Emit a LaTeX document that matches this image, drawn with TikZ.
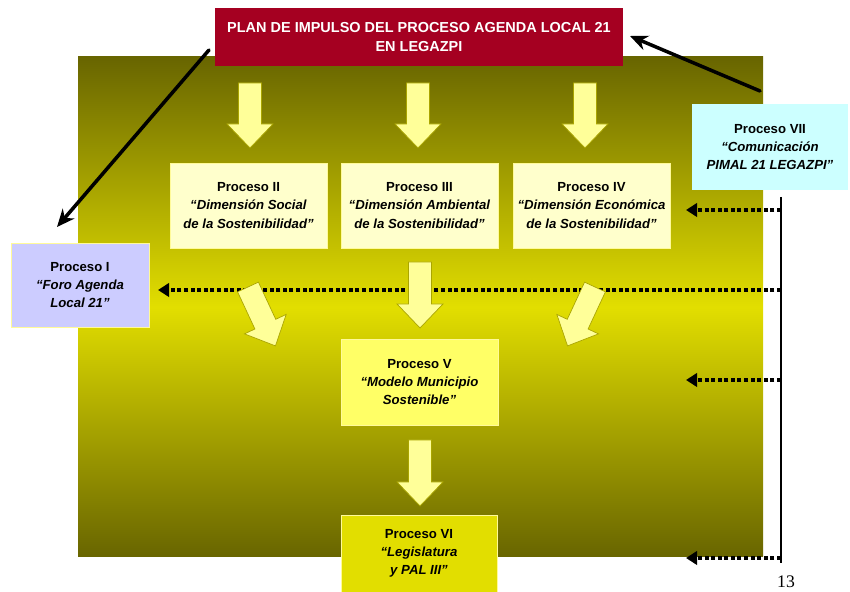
\documentclass[tikz,border=0pt]{standalone}
\usepackage{fontspec}
\setmainfont{Liberation Sans}
\newfontfamily\pagefont{Liberation Serif}
\usetikzlibrary{arrows.meta}

\definecolor{bgdark}{RGB}{104,101,0}
\definecolor{bgbright}{RGB}{226,222,0}
\definecolor{titlered}{RGB}{165,0,33}
\definecolor{paleyellow}{RGB}{255,255,204}
\definecolor{lavender}{RGB}{204,204,255}
\definecolor{palecyan}{RGB}{204,255,255}
\definecolor{brightyellow}{RGB}{255,255,102}
\definecolor{arrowfill}{RGB}{255,255,153}
\definecolor{arrowline}{RGB}{170,165,0}

\tikzset{
  proc/.style={draw=white!60!yellow, line width=0.5pt, align=center, inner sep=2pt,
    font=\bfseries\fontsize{11.2}{15.4}\selectfont,
    minimum width=133.5pt, minimum height=72.3pt},
  blockarrow/.style={fill=arrowfill, draw=arrowline, line width=0.6pt},
  dotarrow/.style={line width=3.4pt, dash pattern=on 3.4pt off 2.2pt,
    -{Triangle[length=9.5pt,width=11.5pt]}},
  bigarrow/.style={line width=3pt, line cap=round, -{Stealth[length=15pt,width=13pt]}}
}

\begin{document}
\begin{tikzpicture}[x=0.85pt, y=-0.85pt]
\useasboundingbox (0,0) rectangle (850,592);

% background panel
\shade[top color=bgdark, bottom color=bgdark, middle color=bgbright] (78,57) rectangle (763,557);

% communication line on the right
\coordinate (vtop) at (781,197);
\coordinate (vbot) at (781,563);
\draw[line width=2.2pt] (vtop) -- (vbot);
\coordinate (d1) at (781,210);
\coordinate (d2) at (781,290);
\coordinate (d3) at (781,380);
\coordinate (d4) at (781,558);
\coordinate (t1) at (686,210);
\coordinate (t2) at (158,290);
\coordinate (t3) at (686,380);
\coordinate (t4) at (686,558);
\foreach \i in {1,2,3,4}
  \draw[dotarrow] (d\i) -- (t\i);

% block arrows
\foreach \x/\y/\a/\l in {250/83/0/65, 418/83/0/65, 585/83/0/65,
                         248/287/25/65, 420/262/0/66, 595/287/-25/65, 420/440/0/66}
  \draw[blockarrow, shift={(\x,\y)}, rotate=\a]
    (-11.5,0) -- (11.5,0) -- (11.5,\l-24) -- (23,\l-24) -- (0,\l)
    -- (-23,\l-24) -- (-11.5,\l-24) -- cycle;

% title
\node[fill=titlered, text=white, align=center, minimum width=346.8pt, minimum height=49.3pt,
  font=\bfseries\fontsize{12.3}{16.2}\selectfont] (plan) at (419,37)
  {PLAN DE IMPULSO DEL PROCESO AGENDA LOCAL 21\\EN LEGAZPI};

% processes
\node[proc, fill=lavender, minimum width=117.3pt, minimum height=71.4pt] (p1) at (80,285)
  {Proceso I\\\textit{“Foro Agenda}\\\textit{Local 21”}};
\node[proc, fill=paleyellow] (p2) at (248.5,205.5)
  {Proceso II\\\textit{“Dimensión Social}\\\textit{de la Sostenibilidad”}};
\node[proc, fill=paleyellow] (p3) at (419.5,205.5)
  {Proceso III\\\textit{“Dimensión Ambiental}\\\textit{de la Sostenibilidad”}};
\node[proc, fill=paleyellow] (p4) at (591.5,205.5)
  {Proceso IV\\\textit{“Dimensión Económica}\\\textit{de la Sostenibilidad”}};
\node[proc, fill=brightyellow, minimum height=73.1pt] (p5) at (419.5,382)
  {Proceso V\\\textit{“Modelo Municipio}\\\textit{Sostenible”}};
\node[proc, fill=bgbright, minimum width=132.6pt, minimum height=65.5pt] (p6) at (419,553.5)
  {Proceso VI\\\textit{“Legislatura}\\\textit{y PAL III”}};
\node[proc, draw=none, fill=palecyan, minimum width=132.6pt, minimum height=73.1pt] (p7) at (770,147)
  {Proceso VII\\\textit{“Comunicación}\\\textit{PIMAL 21 LEGAZPI”}};

% links from the title
\coordinate (a1) at (209,50);
\coordinate (a2) at (57,227);
\coordinate (b1) at (630,36);
\coordinate (b2) at (760,91);
\draw[bigarrow] (a1) -- (a2);
\draw[bigarrow, {Stealth[length=15pt,width=13pt]}-] (b1) -- (b2);

% page number
\node[inner sep=0pt, font=\pagefont\fontsize{15}{16}\selectfont] (pagenum) at (786,582) {13};
\end{tikzpicture}
\end{document}
